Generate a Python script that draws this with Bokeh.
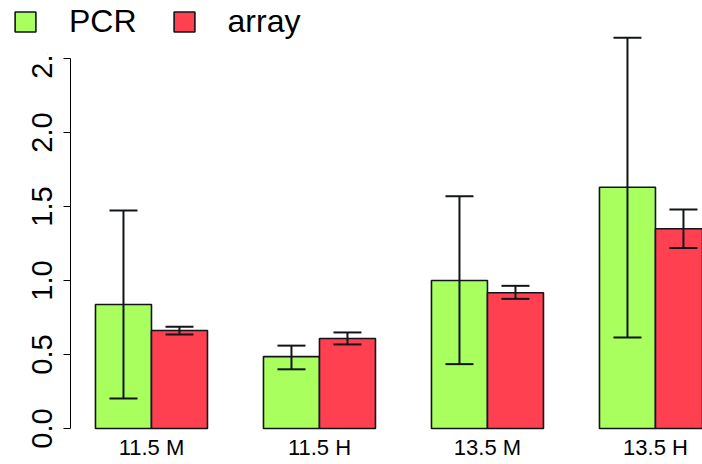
from bokeh.plotting import figure
from bokeh.models import (ColumnDataSource, Whisker, TeeHead, Legend, LegendItem,
                          FixedTicker, PrintfTickFormatter, Range1d)
from bokeh.embed import file_html
from bokeh.resources import INLINE

# ---- data ----
groups = ["11.5 M", "11.5 H", "13.5 M", "13.5 H"]
series = ["PCR", "array"]
pcr_mean = [0.838, 0.486, 1.00, 1.63]
pcr_lower = [0.203, 0.40, 0.435, 0.615]
pcr_upper = [1.473, 0.56, 1.57, 2.64]
array_mean = [0.662, 0.608, 0.917, 1.35]
array_lower = [0.635, 0.568, 0.876, 1.22]
array_upper = [0.687, 0.649, 0.964, 1.48]
y_ticks = [0.0, 0.5, 1.0, 1.5, 2.0, 2.5]

green = "#A8FF5E"
red = "#FF4050"
edge = "#111418"

# R barplot layout: beside=TRUE, space=c(0,1) -> each group occupies 3 bar widths
n = len(groups)
pcr_x = [1.5 + 3 * i for i in range(n)]
array_x = [2.5 + 3 * i for i in range(n)]
group_x = [2.0 + 3 * i for i in range(n)]
axis_x = 0.554  # where R draws its y axis (4% extension of the bar span)

src_pcr = ColumnDataSource(dict(x=pcr_x, top=pcr_mean, lower=pcr_lower, upper=pcr_upper))
src_arr = ColumnDataSource(dict(x=array_x, top=array_mean, lower=array_lower, upper=array_upper))

p = figure(width=702, height=464, output_backend="svg", toolbar_location=None,
           x_range=Range1d(-0.696, 11.84), y_range=Range1d(-0.2432, 2.892),
           min_border_left=0, min_border_right=0, min_border_top=0, min_border_bottom=0)
p.outline_line_color = None
p.xgrid.visible = False
p.ygrid.visible = False
p.background_fill_color = "white"
p.border_fill_color = "white"

r_pcr = p.vbar(x="x", top="top", bottom=0, width=1.0, source=src_pcr,
               fill_color=green, line_color=edge, line_width=1.6)
r_arr = p.vbar(x="x", top="top", bottom=0, width=1.0, source=src_arr,
               fill_color=red, line_color=edge, line_width=1.6)

for src in (src_pcr, src_arr):
    w = Whisker(source=src, base="x", lower="lower", upper="upper",
                line_color=edge, line_width=2, level="annotation",
                upper_head=TeeHead(size=28, line_color=edge, line_width=2),
                lower_head=TeeHead(size=28, line_color=edge, line_width=2))
    p.add_layout(w)

# y axis
ya = p.yaxis[0]
ya.fixed_location = axis_x
ya.ticker = FixedTicker(ticks=y_ticks)
ya.formatter = PrintfTickFormatter(format="%.1f")
ya.bounds = (y_ticks[0], y_ticks[-1])
ya.major_label_orientation = "vertical"
ya.major_label_text_font = "Liberation Sans"
ya.major_label_text_font_size = "29px"
ya.major_label_text_color = "black"
ya.major_label_standoff = 11
ya.major_tick_out = 7
ya.major_tick_in = 0
ya.minor_tick_out = 0
ya.minor_tick_in = 0
ya.axis_line_color = "black"
ya.axis_line_width = 1
ya.major_tick_line_width = 1

# x axis (group labels only), drawn at y = 0
xa = p.xaxis[0]
xa.fixed_location = 0
xa.ticker = FixedTicker(ticks=group_x)
xa.major_label_overrides = {gx: g for gx, g in zip(group_x, groups)}
xa.axis_line_color = None
xa.major_tick_line_color = None
xa.minor_tick_line_color = None
xa.major_tick_out = 0
xa.major_tick_in = 0
xa.minor_tick_out = 0
xa.minor_tick_in = 0
xa.major_label_text_font = "Liberation Sans"
xa.major_label_text_font_size = "22px"
xa.major_label_text_color = "black"
xa.major_label_standoff = 6

legend = Legend(items=[LegendItem(label=series[0], renderers=[r_pcr]),
                       LegendItem(label=series[1], renderers=[r_arr])],
                orientation="horizontal", location=(12, 411),
                glyph_width=26, glyph_height=25, label_standoff=31, spacing=34,
                label_height=64, padding=5, margin=0, border_line_color=None,
                background_fill_color="white", background_fill_alpha=1.0,
                label_text_font="Liberation Sans", label_text_font_size="32px",
                label_text_color="black")
p.add_layout(legend)

open("out.html", "w").write(file_html(p, INLINE))
